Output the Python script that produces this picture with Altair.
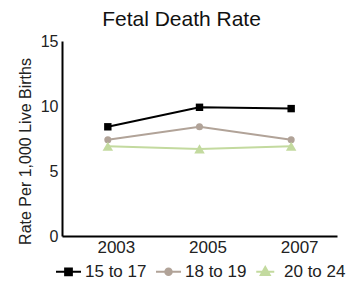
import altair as alt
import pandas as pd

years = ["2003", "2005", "2007"]
series = ["15 to 17", "18 to 19", "20 to 24"]
rate_15_17 = [8.4, 9.9, 9.8]
rate_18_19 = [7.4, 8.4, 7.4]
rate_20_24 = [6.9, 6.7, 6.9]
colors = ["#000000", "#b1a398", "#c3da9f"]
point_shapes = ["square", "circle", "triangle-up"]
point_sizes = [55, 50, 110]
legend_paths = [
    "M-1,0H1M-0.27,-0.27H0.27V0.27H-0.27Z",
    "M-1,0H1M-0.26,0A0.26,0.26 0 1,0 0.26,0A0.26,0.26 0 1,0 -0.26,0Z",
    "M-0.9,0H0.54M-0.18,-0.38L0.18,0.26H-0.54Z",
]

FONT = "Liberation Sans"

rows = []
for s, vals in zip(series, [rate_15_17, rate_18_19, rate_20_24]):
    for yr, v in zip(years, vals):
        rows.append({"year": yr, "series": s, "rate": v})
df = pd.DataFrame(rows)

x_enc = alt.X(
    "year:N",
    sort=years,
    scale=alt.Scale(type="point", padding=0.5),
    axis=alt.Axis(
        title=None, labelAngle=0, labelOffset=8, labelFontSize=17, labelFont=FONT,
        labelColor="#222", labelPadding=3, ticks=False, grid=False,
        domainColor="#000", domainWidth=2,
    ),
)
y_enc = alt.Y(
    "rate:Q",
    scale=alt.Scale(domain=[0, 15], nice=False),
    axis=alt.Axis(
        values=[0, 5, 10, 15], title="Rate Per 1,000 Live Births",
        titleFontSize=16, titleFont=FONT, titleFontWeight="normal", titleColor="#222",
        titleX=-32, titleY=110, titleAngle=-90, titleAlign="center", titleBaseline="alphabetic",
        labelFontSize=16, labelFont=FONT, labelColor="#222", labelPadding=4,
        ticks=False, grid=False, domainColor="#000", domainWidth=2,
    ),
)
# data-driven domain (sorted), so it does not merge with the legend scales
cscale = alt.Scale(range=colors)

base = alt.Chart(df)

lines = base.mark_line(strokeWidth=2).encode(
    x=x_enc, y=y_enc, color=alt.Color("series:N", scale=cscale, legend=None)
)

point_layers = []
for s, shp, sz in zip(series, point_shapes, point_sizes):
    point_layers.append(
        base.transform_filter(alt.datum.series == s)
        .mark_point(shape=shp, filled=True, size=sz, opacity=1)
        .encode(x=x_enc, y=y_enc, color=alt.Color("series:N", scale=cscale, legend=None))
    )

leg = alt.Legend(
    title=None, orient="none", legendX=-7, legendY=217, direction="horizontal",
    symbolSize=625, symbolStrokeWidth=2, symbolOpacity=1, labelFontSize=17, labelFont=FONT,
    labelColor="#222", labelOffset=3, columnPadding=5,
)
legend_layer = base.mark_point(strokeWidth=2, opacity=0).encode(
    x=x_enc, y=y_enc,
    stroke=alt.Stroke("series:N", scale=alt.Scale(domain=series, range=colors), legend=leg),
    fill=alt.Fill("series:N", scale=alt.Scale(domain=series, range=colors), legend=leg),
    shape=alt.Shape("series:N", scale=alt.Scale(domain=series, range=legend_paths), legend=leg),
)

chart = alt.layer(lines, *point_layers, legend_layer).properties(
    width=275,
    height=195,
    title=alt.TitleParams(
        "Fetal Death Rate", fontSize=21, fontWeight="normal", font=FONT, color="#111",
        anchor="middle", dx=-18, offset=3,
    ),
    autosize=alt.AutoSizeParams(type="none"),
    padding={"left": 54, "top": 33, "right": 12, "bottom": 50},
).configure_view(stroke=None)

chart.save("out.html", embed_options={"renderer": "svg", "actions": False})
